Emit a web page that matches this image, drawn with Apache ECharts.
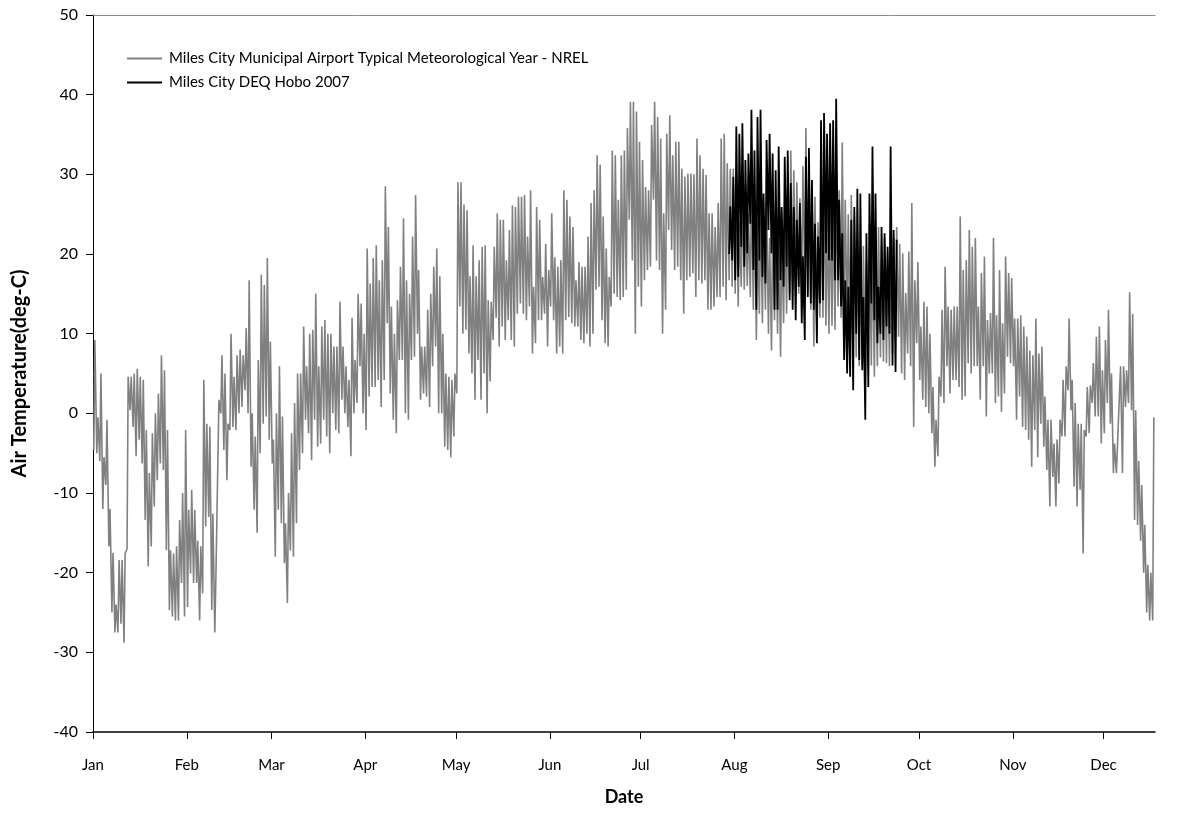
<!DOCTYPE html>
<html>
<head>
<meta charset="utf-8">
<script src="https://cdn.jsdelivr.net/npm/echarts@6/dist/echarts.min.js"></script>
<style>
  html, body { margin: 0; padding: 0; background: #fff; }
  #chart { width: 1183px; height: 816px; }
</style>
</head>
<body>
<div id="chart"></div>
<script>
// Month labels and the day-of-year on which each month starts
const monthNames = ['Jan','Feb','Mar','Apr','May','Jun','Jul','Aug','Sep','Oct','Nov','Dec'];
const monthStarts = [0, 31, 59, 90, 120, 151, 181, 212, 243, 273, 304, 334];

// Typical Meteorological Year, Miles City airport: daily high / low (deg C), day 0 = Jan 1
const tmyMax = [
  9.2, -0.5, 5, -5.5, -0.8, -12, -17.5, -24, -18.4, -18.4,
  -17.6, 4.6, 4.6, 5, 5.6, 4.6, 4.2, -2.1, -7.5, -2.5,
  0, 2.5, 7.3, 5.4, -2.1, -17.2, -17.6, -16.7, -13.4, -10,
  -2.1, -12.1, -9.6, -12.1, -16, -16.7, 4.2, -1.3, -1.7, -12.6,
  -20.5, 1.7, 7.3, 5, -1.3, 10, 4.6, 7.3, 8, 7.3,
  10.7, 16.7, 0, -2.9, 6.7, 17.4, 16.1, 19.5, 9, -3.3,
  0, 5.9, -0.4, -13.8, -10, -2.5, 1.3, 5, 5, 10.9,
  5.9, 10, 10.5, 15, 5.9, 10.9, 11.7, 10, 10, 8.4,
  8.4, 14, 8.4, 5.9, 4.2, 12, 6.7, 15, 13.8, 10,
  20.7, 16.3, 19.5, 21.1, 16.7, 19.2, 28.5, 23.4, 13.4, 10,
  14.2, 18.4, 24.5, 16.7, 15, 22.2, 27.4, 18, 8.4, 8.4,
  13, 15, 18.4, 20.7, 17.2, 10, 5, 4.6, 4.2, 5,
  29, 29, 26.2, 25.5, 17.2, 21.1, 17.2, 19.2, 20.9, 21.1,
  14.2, 14, 20.9, 25.1, 24.3, 24.3, 19.2, 23, 26.1, 25.9,
  27.2, 27.2, 27.4, 22.2, 28, 15.9, 25.9, 24.3, 17.1, 21.3,
  18, 25.1, 19.6, 18.4, 19.2, 28, 26.8, 24.7, 23.4, 16.7,
  19, 18.4, 18.4, 22.2, 26.4, 28, 32.4, 31.2, 24.7, 20.7,
  17.1, 33, 32.4, 26.8, 32.4, 33, 35.8, 39.1, 39.1, 37.9,
  34.1, 31.8, 28.4, 28, 36.2, 39.1, 37.2, 34.5, 25.1, 35.1,
  37.4, 32.4, 34.1, 34.1, 30.7, 29.7, 30.1, 30.1, 30, 34.5,
  32.4, 30.7, 29.9, 25.1, 25.1, 23.4, 26.4, 34.5, 35.1, 31.4,
  30.7, 30.7, 27, 24, 28, 26, 25, 29, 27, 24,
  26, 25, 27, 22, 24, 26, 23, 22, 25, 28,
  33, 30.5, 29, 27, 31, 35.8, 31.8, 28, 27.2, 24,
  26, 28, 25, 25.9, 27, 30.1, 28, 34, 26.8, 25,
  27.4, 24.7, 22, 20, 21, 19, 23.8, 22, 20, 23.4,
  21, 22, 20, 23.4, 22, 23.4, 21.3, 20.1, 15.1, 20.3,
  26.4, 16.7, 19, 10.9, 14, 13.4, 10, 3.3, -0.8, 4.6,
  13, 18.4, 13.4, 13, 13.4, 13.4, 24.7, 18, 19.2, 23,
  20.9, 22, 13.4, 17.6, 19.7, 11.7, 12.6, 22, 12.3, 18,
  11.3, 19.7, 17.6, 17, 11.9, 11.9, 12.3, 10.9, 9.6, 7.9,
  7.3, 11.9, 7.5, 8.4, 2.1, -0.8, -0.8, -3.8, -3.3, -0.8,
  4.2, 5.9, 11.9, 4.2, 1.3, -1.3, -1.3, -2.1, 3.3, 3.5,
  6.3, 9.6, 10.9, 5.4, 9.2, 13, 5, -3.8, -3.8, 5.9,
  5.9, 5.4, 15.2, 12.5, 0.4, -6, -9, -14, -19, -20,
  -0.5
];
const tmyMin = [
  -4.6, -5, -6, -12, -9, -16.7, -25, -27.5, -27.5, -26.4,
  -28.8, -17, 0.4, -1.7, -5.4, -3.3, -6.3, -13.4, -19.2, -16.7,
  -11.7, -8.4, -6.3, -7.1, -17.2, -24.7, -25.5, -26, -26, -21.3,
  -25.5, -24.3, -20.1, -21.3, -21.3, -26, -22.6, -14.2, -13, -24.7,
  -27.5, -20.5, 0, -4.6, -8.4, -2.1, -1.7, -2.1, 0, 0.8,
  2.9, 0, -6.7, -12.1, -15, -5, -1.3, -0.4, -3.3, -6.3,
  -18, -12.1, -13.8, -18.8, -23.8, -17.2, -18, -13.8, -7.1, -5,
  -0.8, -2.5, -5.9, -0.8, -4.2, -3.8, -0.8, -2.9, -5, 0,
  -2.1, -2.5, 1.7, 0, -1.7, -5.4, 0, 1.3, 5.9, 0,
  -2.1, 2.1, 3.3, 3.3, 4.2, 0.8, 4.2, 11.3, 2.5, -0.8,
  -2.5, 6.7, 6.7, 0, -0.8, 6.7, 7.1, 10, 1.7, 2.5,
  2.1, 0.8, 5.9, 8.4, 0, 0, -4.2, -4.6, -5.5, -2.9,
  2.5, 13.4, 10, 10.5, 7.5, 5, 1.7, 6.7, 1.7, 5,
  0, 4, 9.2, 12, 8.4, 10.9, 9.2, 11.7, 9.2, 8.4,
  12.5, 13.8, 12.5, 11.7, 13.4, 7.5, 8.8, 11.7, 11.7, 12.5,
  8.4, 13.4, 11.7, 7.5, 8.4, 7.5, 11.7, 12.1, 11.3, 10.9,
  10.9, 9.2, 8.8, 10, 8.4, 10, 15.5, 15.9, 11.7, 8.8,
  8.4, 13.4, 15, 14.6, 14.2, 14.6, 15.5, 24.3, 19.2, 10,
  15.9, 13.4, 16.7, 18, 18.4, 26.8, 19.2, 18, 10, 13,
  23, 20.5, 18, 18.4, 16.7, 12.5, 16.7, 17.1, 17.6, 14.6,
  16.7, 16.3, 16.7, 13, 13, 13.4, 14.6, 14.6, 15.9, 14.2,
  16.7, 15.9, 15, 13.4, 15.9, 15.5, 16, 14.6, 13, 9.2,
  12.5, 11.3, 13, 10, 7.9, 11.7, 10, 7.1, 11.3, 12.5,
  15, 16, 14.6, 15, 16, 16.7, 15, 13, 8.4, 10,
  12, 12, 11, 10, 11, 10.5, 13.4, 12, 12.5, 11,
  10.5, 8.4, 7, 5.9, 6, 4.2, 5, 6, 4.6, 5.9,
  7, 6.5, 6.3, 5.9, 7.5, 9.2, 9.6, 5, 4.2, 7.5,
  5.9, -1.7, 8.8, 4.2, 1.7, 0.8, 0, -2.5, -6.7, -5.4,
  2.1, 1.3, 5.9, 2.5, 4.2, 4.2, 3.3, 1.7, 2.1, 6.3,
  5, 5.9, 5.9, 1.7, 5.9, -0.4, 5, 5, 1.3, 2.1,
  0.2, 2.5, 7.1, 6.3, 5.9, -0.8, 2.1, -1.7, -2.1, -3.3,
  -6.7, -2.1, -5.5, -1.3, -4.2, -7.1, -11.7, -8, -11.7, -8.8,
  -2.9, -2.9, 2.9, 0.4, -9.2, -11.7, -9.6, -17.6, -2.9, -2.5,
  1.3, -0.4, -0.4, -3.8, -2.5, 1.3, -1.3, -7.5, -7.5, -3.8,
  -7.5, 0.8, 1.3, 0.4, -13.4, -14, -16, -20, -25, -26,
  -26
];

// DEQ Hobo logger, summer 2007: daily high / low (deg C), first day = day 210
const hoboStart = 210;
const hoboMax = [
  26, 29.7, 36, 35.1, 36.4, 31.8, 32.6, 38.1, 33, 37.2,
  38.1, 27.6, 34.3, 35.1, 32.6, 30.5, 33.5, 25.9, 32.2, 33,
  28.9, 25.9, 24.3, 26.4, 19.7, 32.2, 33.3, 29.3, 23.8, 22.2,
  36.8, 37.7, 35.1, 36.4, 36.8, 39.5, 26.8, 22.6, 16.7, 15.9,
  24.3, 25.9, 28.2, 27.6, 14.6, 22.6, 27.6, 33.5, 27.6, 15.9,
  23.4, 22.6, 20.9, 33.5, 23, 21.8
];
const hoboMin = [
  20, 19.2, 16.7, 17.1, 20.9, 18.4, 20.1, 23.8, 18, 13,
  19.2, 17.1, 16.3, 23, 20.1, 13, 13, 16.7, 15.9, 18.4,
  14.2, 13, 11.7, 15.9, 11.3, 9.2, 14.6, 13.8, 13, 8.8,
  13.8, 14.2, 20.1, 19.2, 19.2, 16.7, 16.7, 13.4, 6.7, 5,
  4.6, 2.9, 10, 6.7, 5.4, -0.8, 3.3, 13.8, 11.7, 8.8,
  10, 9.2, 10.9, 10, 6, 5.2
];

// Each day becomes a low (early morning) followed by a high (mid afternoon)
function dailyPath(start, highs, lows) {
  const pts = [];
  for (let i = 0; i < highs.length; i++) {
    const d = start + i;
    pts.push([d + 0.25, lows[i]]);
    pts.push([d + 0.62, highs[i]]);
  }
  return pts;
}

const font = 'Lato, "Open Sans", sans-serif';
const chart = echarts.init(document.getElementById('chart'), null, { renderer: 'canvas' });

chart.setOption({
  animation: false,
  backgroundColor: '#ffffff',
  textStyle: { fontFamily: font, color: '#000' },
  grid: { left: 93, right: 28, top: 15, bottom: 84 },
  legend: {
    orient: 'vertical',
    left: 122,
    top: 46,
    icon: 'rect',
    itemWidth: 35,
    itemHeight: 2,
    itemGap: 9,
    textStyle: { fontFamily: font, fontSize: 15, color: '#000', padding: [0, 0, 0, 2] },
    data: [
      'Miles City Municipal Airport Typical Meteorological Year - NREL',
      'Miles City DEQ Hobo 2007'
    ]
  },
  xAxis: [
    {
      type: 'value',
      min: 0,
      max: 351,
      name: 'Date',
      nameLocation: 'middle',
      nameGap: 56,
      nameTextStyle: { fontFamily: font, fontSize: 18, fontWeight: 'bold', color: '#000' },
      axisLine: { show: true, onZero: false, lineStyle: { color: '#000', width: 1.5 } },
      axisTick: { show: true, length: 7, customValues: monthStarts, lineStyle: { color: '#000' } },
      axisLabel: {
        customValues: monthStarts,
        margin: 26,
        fontFamily: font,
        fontSize: 15,
        color: '#000',
        formatter: v => monthNames[monthStarts.indexOf(v)] || ''
      },
      splitLine: { show: false }
    },
    {
      type: 'value',
      position: 'top',
      min: 0,
      max: 351,
      axisLine: { show: true, onZero: false, lineStyle: { color: '#8c8c8c', width: 1 } },
      axisTick: { show: false },
      axisLabel: { show: false },
      splitLine: { show: false }
    }
  ],
  yAxis: {
    type: 'value',
    min: -40,
    max: 50,
    interval: 10,
    name: 'Air Temperature(deg-C)',
    nameLocation: 'middle',
    nameGap: 63,
    nameTextStyle: { fontFamily: font, fontSize: 20, fontWeight: 'bold', color: '#000' },
    axisLine: { show: true, onZero: false, lineStyle: { color: '#000', width: 1 } },
    axisTick: { show: true, length: 7, lineStyle: { color: '#000' } },
    axisLabel: { margin: 15, fontFamily: font, fontSize: 16, color: '#000' },
    splitLine: { show: false }
  },
  series: [
    {
      name: 'Miles City Municipal Airport Typical Meteorological Year - NREL',
      type: 'line',
      xAxisIndex: 0,
      symbol: 'none',
      showSymbol: false,
      lineStyle: { color: '#808080', width: 1.6 },
      itemStyle: { color: '#808080' },
      data: dailyPath(0, tmyMax, tmyMin)
    },
    {
      name: 'Miles City DEQ Hobo 2007',
      type: 'line',
      xAxisIndex: 0,
      symbol: 'none',
      showSymbol: false,
      lineStyle: { color: '#000000', width: 1.8 },
      itemStyle: { color: '#000000' },
      data: dailyPath(hoboStart, hoboMax, hoboMin)
    }
  ]
});
</script>
</body>
</html>
